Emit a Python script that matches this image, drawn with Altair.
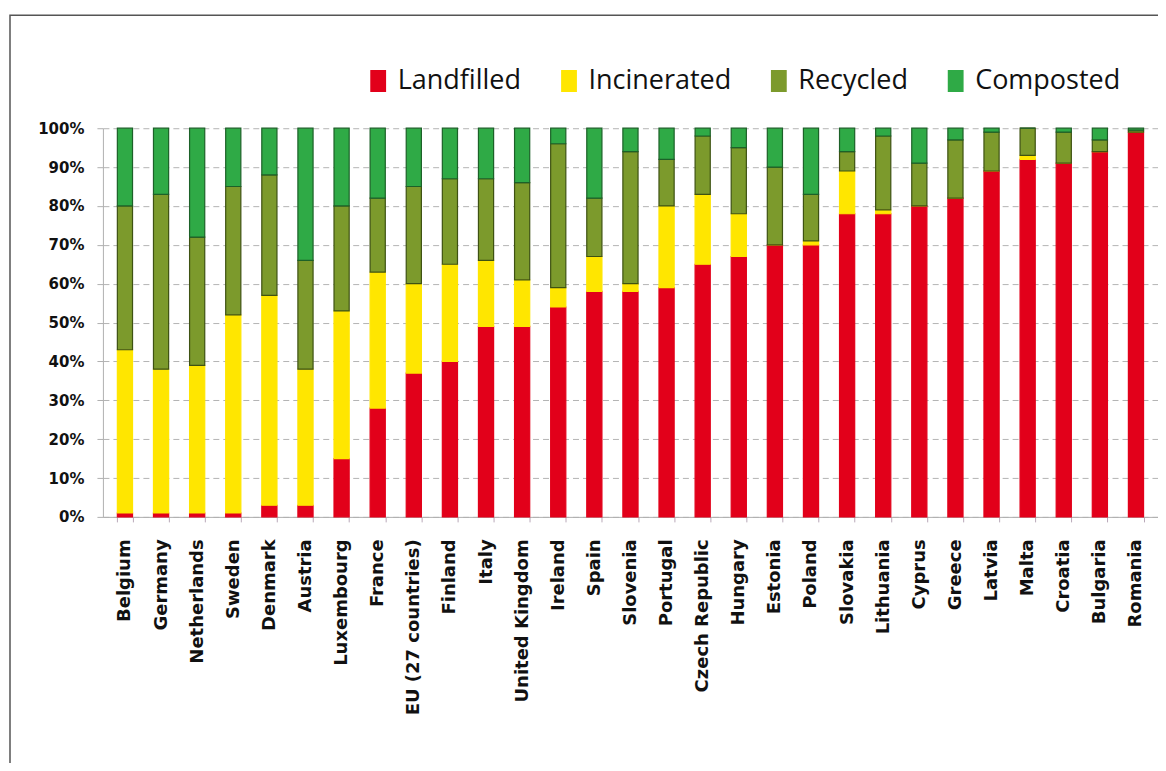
import altair as alt
import pandas as pd

countries = ["Belgium", "Germany", "Netherlands", "Sweden", "Denmark", "Austria",
             "Luxembourg", "France", "EU (27 countries)", "Finland", "Italy",
             "United Kingdom", "Ireland", "Spain", "Slovenia", "Portugal",
             "Czech Republic", "Hungary", "Estonia", "Poland", "Slovakia",
             "Lithuania", "Cyprus", "Greece", "Latvia", "Malta", "Croatia",
             "Bulgaria", "Romania"]

landfilled  = [1, 1, 1, 1, 3, 3, 15, 28, 37, 40, 49, 49, 54, 58, 58, 59, 65, 67, 70, 70, 78, 78, 80, 82, 89, 92, 91, 94, 99]
incinerated = [42, 37, 38, 51, 54, 35, 38, 35, 23, 25, 17, 12, 5, 9, 2, 21, 18, 11, 0, 1, 11, 1, 0, 0, 0, 1, 0, 0, 0]
recycled    = [37, 45, 33, 33, 31, 28, 27, 19, 25, 22, 21, 25, 37, 15, 34, 12, 15, 17, 20, 12, 5, 19, 11, 15, 10, 7, 8, 3, 0.5]
composted   = [20, 17, 28, 15, 12, 34, 20, 18, 15, 13, 13, 14, 4, 18, 6, 8, 2, 5, 10, 17, 6, 2, 9, 3, 1, 0, 1, 3, 0.5]

categories = ["Landfilled", "Incinerated", "Recycled", "Composted"]
fill_colors = ["#E2001A", "#FFE600", "#7C9A2C", "#2FAA46"]
edge_colors = ["#E2001A", "#FFE600", "#3E5212", "#1C6128"]

series = [landfilled, incinerated, recycled, composted]
rows = []
for ci, cat in enumerate(categories):
    for c, v in zip(countries, series[ci]):
        rows.append({"country": c, "type": cat, "value": v, "idx": ci})
df = pd.DataFrame(rows)

bars = alt.Chart(df).mark_bar(strokeWidth=1.2).encode(
    x=alt.X("country:N", sort=countries, title=None,
            scale=alt.Scale(paddingInner=0.58, paddingOuter=0.4),
            axis=alt.Axis(labelAngle=270, labelFont="DejaVu Sans", labelFontWeight="bold",
                          labelFontSize=18, labelColor="#111111", labelLimit=300,
                          labelPadding=17, tickBand="extent", tickSize=5,
                          tickColor="#b9a9b9", domainColor="#b0b0b0", grid=False)),
    y=alt.Y("value:Q", stack="zero", title=None,
            scale=alt.Scale(domain=[0, 100], nice=False),
            axis=alt.Axis(values=list(range(0, 101, 10)), labelExpr="datum.value + '%'",
                          labelFont="DejaVu Sans", labelFontWeight="bold", labelFontSize=15,
                          labelColor="#111111", labelPadding=13, tickSize=6,
                          tickColor="#b0b0b0", domainColor="#b0b0b0",
                          grid=True, gridColor="#b4b4b4", gridDash=[6, 4], gridWidth=1)),
    color=alt.Color("type:N", sort=categories,
                    scale=alt.Scale(domain=categories, range=fill_colors),
                    legend=alt.Legend(title=None, orient="none", direction="horizontal",
                                      legendX=262, legendY=-61,
                                      labelFont="Open Sans", labelFontSize=27,
                                      labelColor="#111111", labelLimit=300, labelOffset=6,
                                      symbolType="M-0.72,-1H0.72V1H-0.72Z", symbolSize=484,
                                      symbolStrokeWidth=0, columnPadding=34)),
    stroke=alt.Stroke("type:N", scale=alt.Scale(domain=categories, range=edge_colors),
                      legend=None),
    order=alt.Order("idx:Q", sort="ascending"),
)

frame = alt.Chart(pd.DataFrame({"k": [0]})).mark_rect(
    fill="transparent", stroke="#555555", strokeWidth=1.5, clip=False
).encode(x=alt.value(-93), x2=alt.value(1300), y=alt.value(-113), y2=alt.value(900))

chart = alt.layer(frame, bars).properties(
    width=1056, height=389,
    autosize=alt.AutoSizeParams(type="none"),
    padding={"left": 95, "top": 120, "right": 0, "bottom": 246},
    background="white",
).configure_view(stroke=None)

chart.save("out.html", embed_options={"renderer": "svg", "actions": False})
